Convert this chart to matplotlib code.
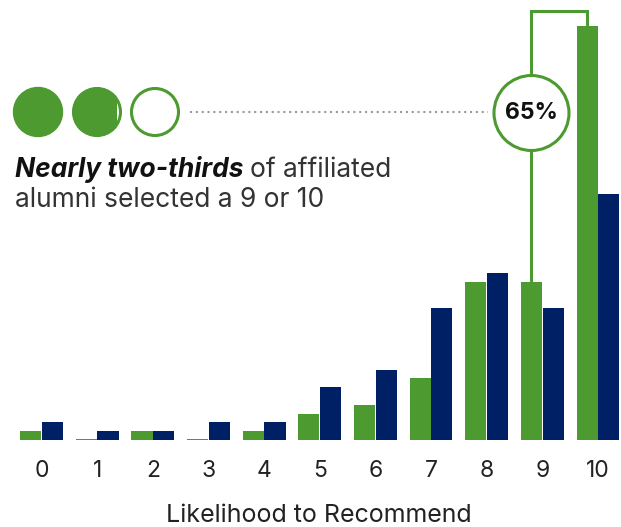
import numpy as np
import matplotlib
matplotlib.use("Agg")
import matplotlib.pyplot as plt
from matplotlib.patches import Circle, Rectangle

scores = [0, 1, 2, 3, 4, 5, 6, 7, 8, 9, 10]
affiliated = [1, 0.1, 1, 0.1, 1, 3, 4, 7, 18, 18, 47]
others = [2, 1, 1, 2, 2, 6, 8, 15, 19, 15, 28]
share_9_10 = "65%"

GREEN = "#4c9a30"
NAVY = "#002066"
GREY = "#999999"

plt.rcParams["font.family"] = ["Inter", "DejaVu Sans"]

W, H, DPI = 621, 527, 100
fig = plt.figure(figsize=(W / DPI, H / DPI), dpi=DPI)
base = 440
ax = fig.add_axes([0, (H - base) / H, 1, base / H])

step = 55.65
x0 = 41.5
ax.set_xlim(-x0 / step, (W - x0) / step)
ax.set_ylim(0, base / 8.8)

x = np.array(scores)
bw = 0.38
off = 0.195
ax.bar(x - off, affiliated, width=bw, color=GREEN, linewidth=0)
ax.bar(x + off, others, width=bw, color=NAVY, linewidth=0)

for s in ax.spines.values():
    s.set_visible(False)
ax.set_yticks([])
ax.set_xticks(x)
ax.set_xticklabels([str(s) for s in scores], fontsize=16.5, color="#222222")
ax.tick_params(axis="x", length=0, pad=14.5)

# axis title placed at its baseline
fig.text(319 / W, (H - 522) / H, "Likelihood to Recommend", fontsize=18,
         color="#222222", ha="center", va="baseline")


def px(xd, yd):
    return ax.transData.transform((xd, yd))


def to_data(xp, yp_top):
    # pixel from top of figure -> data coords
    return ax.transData.inverted().transform((xp, H - yp_top))


lw = 2.2
# connector to the 65% circle
gx9 = 9 - off
gx10 = 10 - off
cx_pix = px(gx9, 0)[0]
cy_top = 113
r_big = 37.5
y_circ_bot = to_data(cx_pix, cy_top + r_big)[1]
y_circ_top = to_data(cx_pix, cy_top - r_big)[1]
y_bracket = to_data(cx_pix, 11)[1]
ax.plot([gx9, gx9], [affiliated[9], y_circ_bot], color=GREEN, lw=lw, clip_on=False, solid_capstyle="butt")
ax.plot([gx9, gx9, gx10, gx10], [y_circ_top, y_bracket, y_bracket, affiliated[10]],
        color=GREEN, lw=lw, clip_on=False, solid_joinstyle="miter", solid_capstyle="butt")

big = Circle((cx_pix, H - cy_top), r_big, transform=None, facecolor="white",
             edgecolor=GREEN, lw=lw, zorder=5)
fig.patches.append(big)
fig.text(cx_pix / W, (H - cy_top) / H, share_9_10, ha="center", va="center",
         fontsize=16.5, fontweight="bold", color="#111111", zorder=6)

# dotted leader
fig.lines.append(plt.Line2D([190, cx_pix - r_big - 6], [H - 112, H - 112], transform=None,
                            color=GREY, lw=1.5, linestyle=(0, (1, 1.8))))

# three circles icon
r = 24.5
cy = H - 112
c1 = Circle((38, cy), r, transform=None, facecolor=GREEN, edgecolor=GREEN, lw=1)
fig.patches.append(c1)
c2 = Circle((97, cy), r, transform=None, facecolor=GREEN, edgecolor="none")
clip = Rectangle((60, cy - 40), 116.5 - 60, 80, transform=None)
c2.set_clip_path(clip)
fig.patches.append(c2)
fig.patches.append(Circle((97, cy), r - 1, transform=None, facecolor="none", edgecolor=GREEN, lw=lw))
fig.patches.append(Circle((155, cy), r - 1, transform=None, facecolor="none", edgecolor=GREEN, lw=lw))

# caption
fs = 19
t1 = fig.text(15 / W, (H - 177) / H, "Nearly two-thirds", fontsize=fs, fontweight="bold",
              fontstyle="italic", color="#111111", va="baseline")
renderer = fig.canvas.get_renderer()
bb = t1.get_window_extent(renderer)
fig.text((bb.x1 + 6) / W, (H - 177) / H, "of affiliated", fontsize=fs, color="#333333", va="baseline")
fig.text(15 / W, (H - 207) / H, "alumni selected a 9 or 10", fontsize=fs, color="#333333", va="baseline")

fig.savefig("out.png", dpi=DPI)
